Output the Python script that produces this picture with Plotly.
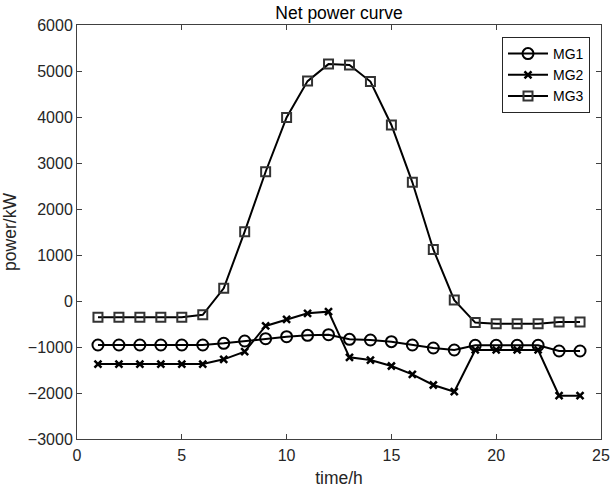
import plotly.graph_objects as go

hours = list(range(1, 25))
mg1 = [-957, -957, -957, -957, -957, -957, -920, -870, -820, -776, -746, -733,
       -833, -848, -884, -957, -1022, -1065, -963, -963, -963, -963, -1087, -1087]
mg2 = [-1370, -1370, -1370, -1370, -1370, -1370, -1268, -1100, -543, -398, -268, -232,
       -1225, -1283, -1413, -1594, -1826, -1971, -1065, -1065, -1065, -1065, -2058, -2058]
mg3 = [-355, -355, -355, -355, -355, -300, 275, 1507, 2810, 3990, 4780, 5150,
       5130, 4770, 3826, 2580, 1120, 20, -470, -493, -493, -493, -456, -456]

x_ticks = [0, 5, 10, 15, 20, 25]
y_ticks = [-3000, -2000, -1000, 0, 1000, 2000, 3000, 4000, 5000, 6000]

FONT = "Liberation Sans, Arial"

fig = go.Figure()
fig.add_trace(go.Scatter(x=hours, y=mg1, name="MG1", mode="lines+markers",
                         line=dict(color="black", width=2),
                         marker=dict(symbol="circle-open", size=11, color="black",
                                     line=dict(width=2, color="black"))))
fig.add_trace(go.Scatter(x=hours, y=mg2, name="MG2", mode="lines+markers",
                         line=dict(color="black", width=2),
                         marker=dict(symbol="x-thin-open", size=7, color="black",
                                     line=dict(width=2.5, color="black"))))
fig.add_trace(go.Scatter(x=hours, y=mg3, name="MG3", mode="lines+markers",
                         line=dict(color="black", width=2),
                         marker=dict(symbol="square-open", size=9, color="#333333",
                                     line=dict(width=2, color="#333333"))))

axis_common = dict(showline=True, linecolor="#404040", linewidth=1, mirror="ticks",
                   ticks="inside", ticklen=5, tickcolor="#404040", showgrid=False,
                   zeroline=False, automargin=False,
                   tickfont=dict(family=FONT, size=16, color="#262626"))

fig.update_layout(
    width=612, height=493,
    margin=dict(l=77, r=11, t=25, b=54),
    paper_bgcolor="white", plot_bgcolor="white",
    hovermode=False,
    title=dict(text="Net power curve", x=0.5, xref="paper", xanchor="center",
               y=1 - 12.5 / 493, yanchor="middle",
               font=dict(family=FONT, size=17.5, color="black")),
    xaxis=dict(range=[0, 25], tickvals=x_ticks, ticklabelstandoff=2,
               title=dict(text="time/h", standoff=8,
                          font=dict(family=FONT, size=17.5, color="#262626")),
               **axis_common),
    yaxis=dict(range=[-3000, 6000], tickvals=y_ticks,
               title=dict(text="power/kW", standoff=6,
                          font=dict(family=FONT, size=17.5, color="#262626")),
               **axis_common),
    legend=dict(x=0.979, xanchor="right", y=0.971, yanchor="top",
                bgcolor="white", bordercolor="#262626", borderwidth=1,
                font=dict(family=FONT, size=14, color="black"),
                tracegroupgap=0, itemwidth=40),
    showlegend=True,
)

# remove the default 8px page margin so the figure fills the window exactly
fig.write_html("out.html",
               config={"displayModeBar": False, "staticPlot": True},
               post_script="document.body.style.margin='0px';"
                           "document.body.style.overflow='hidden';")
